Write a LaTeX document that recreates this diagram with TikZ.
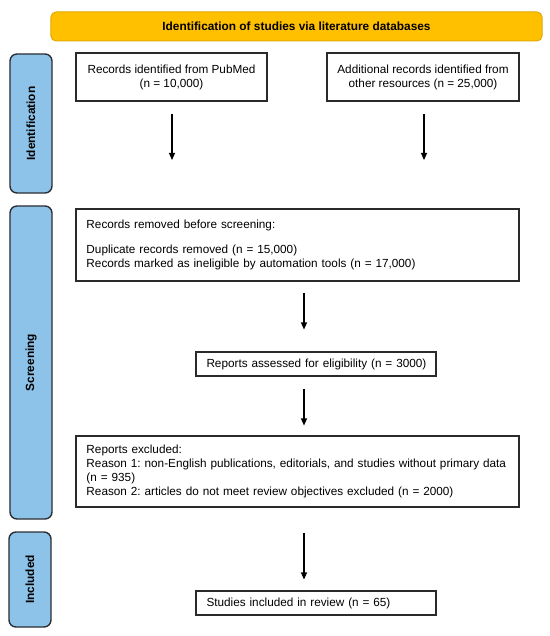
\documentclass[tikz,border=0pt]{standalone}
\usepackage{fontspec}
\setmainfont{Liberation Sans}
\usetikzlibrary{arrows.meta}
\definecolor{bannerfill}{HTML}{FFC000}
\definecolor{bannerdraw}{HTML}{E3A800}
\definecolor{sidefill}{HTML}{8DC3E8}
\definecolor{sidedraw}{HTML}{2B2E33}
\definecolor{boxdraw}{HTML}{2A2A2A}
\begin{document}
\frenchspacing
\begin{tikzpicture}[x=1bp,y=-1bp,
  every node/.style={font=\fontsize{11.8}{14}\selectfont},
  banner/.style={draw=bannerdraw,fill=bannerfill,line width=1bp,rounded corners=5bp,
    minimum width=491bp,minimum height=29bp,inner sep=0pt,font=\fontsize{11.9}{14}\selectfont\bfseries},
  side/.style={draw=sidedraw,fill=sidefill,line width=1.4bp,rounded corners=7bp,
    minimum width=42bp,inner sep=0pt},
  sidelabel/.style={rotate=90,font=\fontsize{11.9}{14}\selectfont\bfseries,inner sep=0pt},
  flowbox/.style={draw=boxdraw,line width=1.1bp,inner sep=0pt,align=center},
  leftbox/.style={draw=boxdraw,line width=1.1bp,inner xsep=10.5bp,inner ysep=0pt,align=left},
  flowarrow/.style={draw=black,line width=1.1bp,-{Triangle[length=7bp,width=6bp]}}
]
\path[use as bounding box] (0,0) rectangle (550,636);

% banner
\node[banner] (banner) at (296.5,26.5) {Identification of studies via literature databases};

% side boxes
\node[side,minimum height=139bp] (idside) at (31,123.5) {};
\node[sidelabel] (idlabel) at (idside.center) {Identification};
\node[side,minimum height=313bp] (scside) at (31,362.5) {};
\node[sidelabel] (sclabel) at (scside.center) {Screening};
\node[side,minimum height=95bp] (inside) at (30,579.5) {};
\node[sidelabel] (inlabel) at (inside.center) {Included};

% identification boxes
\node[flowbox,minimum width=191bp,minimum height=48bp] (pubmed) at (171.5,77)
  {Records identified from PubMed\\(n = 10,000)};
\node[flowbox,minimum width=192bp,minimum height=48bp] (additional) at (423,77)
  {Additional records identified from\\other resources (n = 25,000)};
\coordinate (pubend) at (172,160);
\coordinate (addend) at (424,160);
\draw[flowarrow,shorten <=12bp] (pubmed.south -| pubend) -- (pubend);
\draw[flowarrow,shorten <=12bp] (additional.south -| addend) -- (addend);

% screening
\node[leftbox,minimum height=72bp,text width=422bp] (removed) at (297.5,245)
  {\mbox{Records removed before screening:}\\[11bp]\mbox{Duplicate records removed (n = 15,000)}\\\mbox{Records marked as ineligible by automation tools (n = 17,000)}};
\node[leftbox,minimum height=24bp,text width=219bp] (assessed) at (316,364)
  {\mbox{Reports assessed for eligibility (n = 3000)}};
\node[leftbox,minimum height=71bp,text width=422bp] (excluded) at (297.5,471.5)
  {\mbox{Reports excluded:}\\\mbox{Reason 1: non-English publications, editorials, and studies without primary data}\\\mbox{(n = 935)}\\\mbox{Reason 2: articles do not meet review objectives excluded (n = 2000)}};
\node[leftbox,minimum height=24bp,text width=219bp] (included) at (316,603)
  {\mbox{Studies included in review (n = 65)}};

\draw[flowarrow,shorten <=11bp,shorten >=22bp] (removed.south -| 304,0) -- (assessed.north -| 304,0);
\draw[flowarrow,shorten <=12bp,shorten >=10bp] (assessed.south -| 304,0) -- (excluded.north -| 304,0);
\draw[flowarrow,shorten <=25bp,shorten >=11bp] (excluded.south -| 304,0) -- (included.north -| 304,0);
\end{tikzpicture}
\end{document}
